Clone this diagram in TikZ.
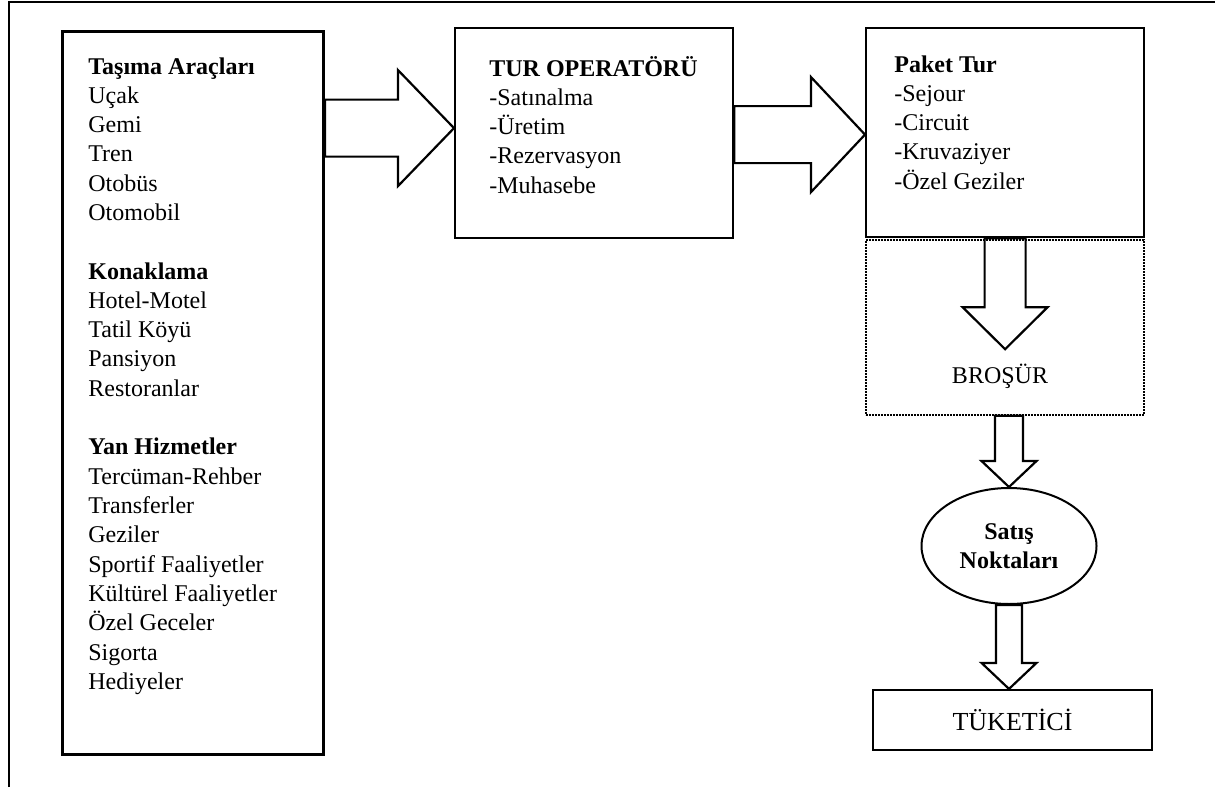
\documentclass[tikz,border=0pt]{standalone}
\usepackage{fontspec}
\setmainfont{Liberation Serif}
\usetikzlibrary{shapes.geometric, calc, positioning}

% hollow block arrows: base, tip, shaft half width, head half width, head length
\newcommand{\rightfat}[5]{%
  \draw[fat_arrow] ($(#1)+(0,-#3)$) -- ($(#1 -| #2)+(-#5,-#3)$) -- ($(#2)+(-#5,-#4)$) -- (#2)
    -- ($(#2)+(-#5,#4)$) -- ($(#1 -| #2)+(-#5,#3)$) -- ($(#1)+(0,#3)$) -- cycle;}
\newcommand{\downfat}[5]{%
  \draw[fat_arrow] ($(#1)+(-#3,0)$) -- ($(#1 |- #2)+(-#3,-#5)$) -- ($(#2)+(-#4,-#5)$) -- (#2)
    -- ($(#2)+(#4,-#5)$) -- ($(#1 |- #2)+(#3,-#5)$) -- ($(#1)+(#3,0)$) -- cycle;}

\begin{document}
\begin{tikzpicture}[
        % one unit = one pixel of the page
        x=0.5pt, y=-0.5pt,
        % Frames: plain black rectangles, text is set apart
        frame_box/.style = {rectangle, draw=black, line width=1.1pt, inner sep=0pt, anchor=north west},
        dot_box/.style = {rectangle, draw=black, line width=0.9pt, dash pattern=on 0.9pt off 0.6pt,
                          inner sep=0pt, anchor=north west},
        % Lists: left aligned, first baseline at the node position
        list_txt/.style = {anchor=base west, inner sep=0pt,
                           font=\fontsize{12}{14.65}\selectfont},
        sales_node/.style = {ellipse, draw=black, line width=1pt, inner sep=0pt, align=center,
                             minimum width=87.5pt, minimum height=58pt,
                             font=\fontsize{12}{14.65}\selectfont\bfseries},
        % Arrows: hollow block arrows
        fat_arrow/.style = {draw=black, line width=1.1pt, line join=miter}
    ]

    \useasboundingbox (0,0) rectangle (1215,787);

    % --- Outer frame (open at the bottom and right) ---
    \draw[line width=0.8pt] (9,787) -- (9,2) -- (1215,2);

    % --- Column 1: suppliers ---
    \node[frame_box, line width=1.5pt, minimum width=130.5pt, minimum height=361.5pt] (lbox) at (61,30) {};
    \node[list_txt] (lbox_txt) at (88,74)
        {\begin{tabular}[t]{@{}l@{}}
         \textbf{Taşıma Araçları}\\Uçak\\Gemi\\Tren\\Otobüs\\Otomobil\\[14.65pt]
         \textbf{Konaklama}\\Hotel-Motel\\Tatil Köyü\\Pansiyon\\Restoranlar\\[14.65pt]
         \textbf{Yan Hizmetler}\\Tercüman-Rehber\\Transferler\\Geziler\\Sportif Faaliyetler\\
         Kültürel Faaliyetler\\Özel Geceler\\Sigorta\\Hediyeler
         \end{tabular}};

    % --- Column 2: tour operator ---
    \node[frame_box, minimum width=139pt, minimum height=105pt] (tur) at (454,27) {};
    \node[list_txt] (tur_txt) at (489,76)
        {\begin{tabular}[t]{@{}l@{}}
         \textbf{TUR OPERATÖRÜ}\\-Satınalma\\-Üretim\\-Rezervasyon\\-Muhasebe
         \end{tabular}};

    % --- Column 3: package, brochure, sales, consumer ---
    \node[dot_box, minimum width=139pt, minimum height=87.5pt] (brosur_box) at (865,239) {};
    \node[frame_box, minimum width=139pt, minimum height=104.5pt] (paket) at (865,27) {};
    \node[list_txt] (paket_txt) at (894,72)
        {\begin{tabular}[t]{@{}l@{}}
         \textbf{Paket Tur}\\-Sejour\\-Circuit\\-Kruvaziyer\\-Özel Geziler
         \end{tabular}};
    \node[anchor=base, inner sep=0pt, font=\fontsize{12}{14.65}\selectfont] (brosur) at (1000,383) {BROŞÜR};
    \node[sales_node] (satis) at (1009,546) {Satış\\Noktaları};
    \node[rectangle, draw=black, line width=1.1pt, minimum width=139.5pt, minimum height=30pt,
          inner sep=0pt, font=\fontsize{13}{15}\selectfont] (tuketici) at (1012.5,720) {TÜKETİCİ};

    % --- Arrow end points ---
    \coordinate (a1_tip) at ($(tur.west)+(0,-5)$);
    \coordinate (a2_tip) at ($(paket.west)+(0,2)$);
    \coordinate (a3_tip) at ($(paket.south)+(0,111)$);

    % --- Block arrows ---
    \rightfat{lbox.east |- a1_tip}{a1_tip}{28.5}{58}{56}
    \rightfat{tur.east |- a2_tip}{a2_tip}{28.5}{57.5}{54}
    \downfat{paket.south}{a3_tip}{20.5}{42.5}{42}
    \downfat{satis.north |- brosur_box.south}{satis.north}{14}{27.5}{26}
    \downfat{satis.south}{satis.south |- tuketici.north}{13}{27.5}{26}

\end{tikzpicture}
\end{document}
